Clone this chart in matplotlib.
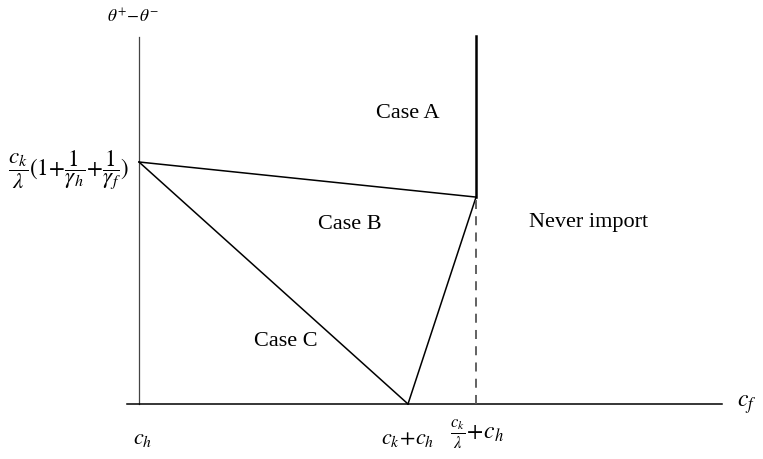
import matplotlib
matplotlib.use("Agg")
from matplotlib import pyplot as plt

plt.rcParams['font.family'] = ['Liberation Serif', 'DejaVu Serif']
plt.rcParams['mathtext.fontset'] = 'stix'

# threshold points (c_h = 0, c_k + c_h = 1, values normalised)
x_ch = 0.0
x_ckch = 1.0
x_cklam = 1.253
y_top = 1.0          # (c_k/lambda)(1 + 1/gamma_h + 1/gamma_f)
y_right = 0.855      # where the A/B boundary meets x_cklam
y_max = 1.517
x_axis_end = 2.167

region_names = ['Case A', 'Case B', 'Case C', 'Never import']
region_x = [1.0, 0.785, 0.545, 1.67]
region_y = [1.2, 0.74, 0.257, 0.748]

fig = plt.figure(figsize=(7.63, 4.59), dpi=100)
ax = fig.add_axes([0, 0, 1, 1])
ax.set_xlim(-0.5167, 2.3197)
ax.set_ylim(-0.2273, 1.6694)
ax.axis('off')

# axes
ax.plot([x_ch, x_ch], [0, y_max], color='#444444', lw=0.9)
ax.plot([-0.045, x_axis_end], [0, 0], color='black', lw=1.1)

# boundaries
ax.plot([x_ch, x_cklam], [y_top, y_right], color='black', lw=1.1)
ax.plot([x_ch, x_ckch], [y_top, 0], color='black', lw=1.1)
ax.plot([x_ckch, x_cklam], [0, y_right], color='black', lw=1.1)
ax.plot([x_cklam, x_cklam], [y_right, y_max + 0.005], color='black', lw=1.8)
ax.plot([x_cklam, x_cklam], [0, y_right], color='#555555', lw=1.3,
        dashes=(5, 4))

for name, xx, yy in zip(region_names, region_x, region_y):
    ax.text(xx, yy, name, fontsize=16, ha='center', va='center')

# axis labels
ax.text(-0.022, 1.6, r'$\theta^{+}\!-\!\theta^{-}$', fontsize=12.5,
        ha='center', va='center')
ax.text(2.26, -0.003, r'$c_f$', fontsize=17, ha='center', va='center')
ax.text(-0.035, y_top - 0.03,
        r'$\dfrac{c_k}{\lambda}(1\!+\!\dfrac{1}{\gamma_h}\!+\!\dfrac{1}{\gamma_f})$',
        fontsize=16.5, ha='right', va='center')
ax.text(x_ch + 0.015, -0.145, r'$c_h$', fontsize=16, ha='center', va='center')
ax.text(x_ckch, -0.145, r'$c_k\!+\!c_h$', fontsize=16, ha='center', va='center')
ax.text(x_cklam + 0.005, -0.125, r'$\frac{c_k}{\lambda}\!+\!c_h$', fontsize=17,
        ha='center', va='center')

fig.savefig('out.png', dpi=100)
